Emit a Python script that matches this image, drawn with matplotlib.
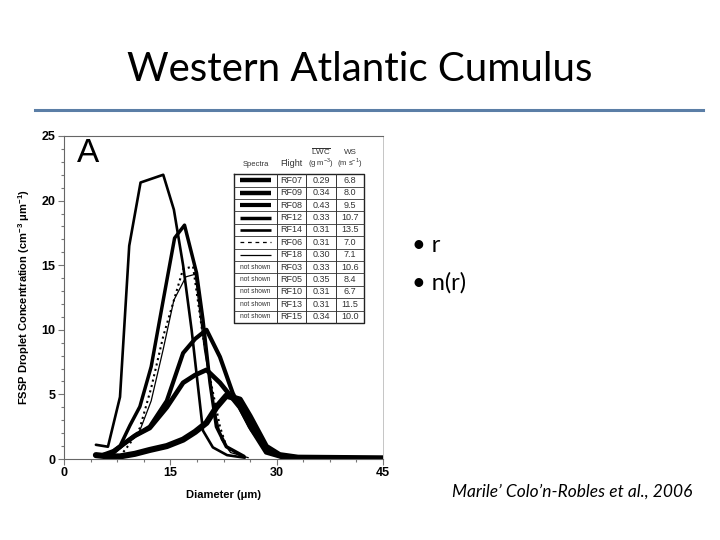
import matplotlib
matplotlib.use("Agg")
import matplotlib.pyplot as plt
from matplotlib.ticker import MultipleLocator

plt.rcParams["mathtext.fontset"] = "custom"
plt.rcParams["mathtext.rm"] = "Liberation Sans"
plt.rcParams["mathtext.bf"] = "Liberation Sans:bold"

# droplet spectra (diameter um, concentration cm-3 um-1)
rf07_x = [4.5, 6.2, 7.9, 10.0, 12.1, 14.5, 16.8, 18.5, 20.1, 21.5, 22.9, 24.8, 26.2, 28.5, 30.4, 33.0, 45.0]
rf07_y = [0.3, 0.2, 0.2, 0.4, 0.7, 1.0, 1.5, 2.1, 2.8, 4.0, 4.9, 4.6, 3.3, 0.95, 0.3, 0.1, 0.05]
rf09_x = [5.5, 7.0, 8.5, 10.0, 12.1, 14.5, 16.8, 18.5, 20.1, 22.0, 24.8, 26.5, 28.5, 31.0, 35.0, 45.0]
rf09_y = [0.3, 0.6, 1.2, 1.8, 2.4, 4.0, 5.9, 6.5, 6.9, 5.9, 4.0, 2.3, 0.8, 0.15, 0.05, 0.05]
rf08_x = [5.5, 7.0, 8.5, 10.0, 12.1, 14.5, 16.8, 18.5, 20.1, 22.0, 23.8, 26.2, 28.5, 31.0, 35.0, 45.0]
rf08_y = [0.3, 0.5, 1.2, 1.8, 2.5, 4.5, 8.2, 9.3, 10.0, 7.9, 5.1, 2.5, 0.5, 0.1, 0.05, 0.05]
rf12_x = [6.2, 7.9, 9.3, 10.7, 12.3, 14.0, 15.6, 17.0, 18.7, 19.6, 20.6, 21.5, 22.9, 25.4]
rf12_y = [0.3, 1.0, 2.6, 4.05, 7.15, 12.3, 17.1, 18.1, 14.4, 10.8, 5.9, 2.5, 0.95, 0.2]
rf14_x = [4.5, 6.2, 7.9, 9.2, 10.8, 14.0, 15.5, 16.8, 18.0, 19.6, 21.0, 23.0, 25.5]
rf14_y = [1.1, 0.95, 4.8, 16.5, 21.4, 22.0, 19.3, 15.0, 10.0, 2.2, 0.9, 0.3, 0.1]
rf06_x = [7.9, 9.3, 10.7, 12.3, 14.0, 16.8, 18.2, 19.6, 20.7, 22.0, 23.0, 25.0]
rf06_y = [0.2, 1.2, 2.4, 5.5, 9.5, 14.7, 14.9, 9.5, 6.0, 2.5, 0.8, 0.2]
rf18_x = [6.2, 7.9, 9.3, 10.7, 12.3, 14.0, 15.5, 17.2, 18.5, 19.8, 21.0, 22.2, 23.5, 26.0]
rf18_y = [0.2, 0.8, 1.5, 2.2, 4.5, 8.5, 12.3, 14.1, 14.3, 8.5, 4.5, 1.5, 0.5, 0.1]

# table next to the spectra
flights = ["RF07", "RF09", "RF08", "RF12", "RF14", "RF06", "RF18",
           "RF03", "RF05", "RF10", "RF13", "RF15"]
lwc = ["0.29", "0.34", "0.43", "0.33", "0.31", "0.31", "0.30",
       "0.33", "0.35", "0.31", "0.31", "0.34"]
ws = ["6.8", "8.0", "9.5", "10.7", "13.5", "7.0", "7.1",
      "10.6", "8.4", "6.7", "11.5", "10.0"]

spectra = [(rf07_x, rf07_y, 4.4, "-"), (rf09_x, rf09_y, 3.4, "-"),
           (rf08_x, rf08_y, 3.0, "-"), (rf12_x, rf12_y, 2.5, "-"),
           (rf14_x, rf14_y, 1.9, "-"), (rf06_x, rf06_y, 1.5, ":"),
           (rf18_x, rf18_y, 0.9, "-")]

fig = plt.figure(figsize=(7.2, 5.4), dpi=100)

# slide title and rule
fig.text(0.5, 0.872, "Western Atlantic Cumulus", ha="center", va="center",
         fontsize=29, family="Lato")
fig.add_artist(plt.Line2D([35 / 720, 703 / 720], [1 - 110 / 540] * 2,
                          color="#5b7ea6", lw=2.2))

ax = fig.add_axes([64 / 720, 1 - 459 / 540, 319 / 720, 323 / 540])
for xs, ys, lw, ls in spectra:
    ax.plot(xs, ys, color="black", lw=lw, ls=ls, solid_joinstyle="round",
            solid_capstyle="round")

ax.set_xlim(0, 45)
ax.set_ylim(0, 25)
ax.xaxis.set_major_locator(MultipleLocator(15))
ax.xaxis.set_minor_locator(MultipleLocator(3.75))
ax.yaxis.set_major_locator(MultipleLocator(5))
ax.yaxis.set_minor_locator(MultipleLocator(1))
ax.tick_params(which="both", direction="out", color="#777777", width=0.8)
ax.tick_params(which="major", length=4, labelsize=9, pad=2)
ax.tick_params(which="minor", length=2.5)
for lab in ax.get_xticklabels() + ax.get_yticklabels():
    lab.set_fontweight("bold")
    lab.set_family("Liberation Sans")
for side in ["left", "bottom", "top"]:
    ax.spines[side].set_color("#666666")
ax.spines["right"].set_color("#bbbbbb")
ax.spines["right"].set_linewidth(0.6)

ax.set_xlabel("Diameter (\u03bcm)", fontsize=8, fontweight="bold",
              family="Liberation Sans", labelpad=8)
ax.set_ylabel("FSSP Droplet Concentration (cm$^{\\mathbf{-3}}$ \u03bcm$^{\\mathbf{-1}}$)",
              fontsize=8, fontweight="bold", family="Liberation Sans", labelpad=7)
ax.text(0.04, 0.945, "A", transform=ax.transAxes, fontsize=24,
        family="Liberation Sans", va="center", ha="left")

# table in axes fraction
left, c1, c2, c3, right = 0.533, 0.668, 0.759, 0.853, 0.940
top, rh = 0.882, 0.0384
bottom = top - rh * len(flights)
tkw = dict(transform=ax.transAxes, family="Liberation Sans", color="#333333")
ax.plot([left, right, right, left, left], [top, top, bottom, bottom, top],
        transform=ax.transAxes, color="#222222", lw=1.0, clip_on=False)
for cx in [c1, c2, c3]:
    ax.plot([cx, cx], [top, bottom], transform=ax.transAxes, color="#333333",
            lw=0.7, clip_on=False)
for i in range(1, len(flights)):
    yy = top - i * rh
    ax.plot([left, right], [yy, yy], transform=ax.transAxes, color="#333333",
            lw=0.6, clip_on=False)

ax.text((left + c1) / 2, top + 0.03, "Spectra", ha="center", va="center", fontsize=5.5, **tkw)
ax.text((c1 + c2) / 2, top + 0.033, "Flight", ha="center", va="center", fontsize=6.5, **tkw)
ax.text((c2 + c3) / 2, top + 0.068, r"$\overline{\mathrm{LWC}}$", ha="center", va="center", fontsize=5.8, **tkw)
ax.text((c3 + right) / 2, top + 0.068, "WS", ha="center", va="center", fontsize=5.8, **tkw)
ax.text((c2 + c3) / 2, top + 0.033, r"(g m$^{-3}$)", ha="center", va="center", fontsize=5.5, **tkw)
ax.text((c3 + right) / 2, top + 0.033, r"(m s$^{-1}$)", ha="center", va="center", fontsize=5.5, **tkw)

for i, (fl, lw_v, ws_v) in enumerate(zip(flights, lwc, ws)):
    yc = top - (i + 0.5) * rh
    ax.text((c1 + c2) / 2, yc, fl, ha="center", va="center", fontsize=6.5, **tkw)
    ax.text((c2 + c3) / 2, yc, lw_v, ha="center", va="center", fontsize=6.5, **tkw)
    ax.text((c3 + right) / 2, yc, ws_v, ha="center", va="center", fontsize=6.5, **tkw)
    if i < len(spectra):
        _, _, lw, ls = spectra[i]
        ax.plot([left + 0.02, c1 - 0.02], [yc, yc], transform=ax.transAxes,
                color="black", lw=min(lw, 3.2) if ls == "-" else 0.9,
                ls="-" if ls == "-" else (0, (3, 3)), clip_on=False,
                solid_capstyle="butt")
    else:
        ax.text((left + c1) / 2, yc, "not shown", ha="center", va="center",
                fontsize=4.8, **tkw)

# bullets and citation
fig.text(412 / 720, 1 - 245 / 540, "\u2022 r", fontsize=17, family="Lato", va="center")
fig.text(412 / 720, 1 - 283 / 540, "\u2022 n(r)", fontsize=17, family="Lato", va="center")
fig.text(452 / 720, 1 - 492 / 540, "Marile\u2019 Colo\u2019n-Robles et al., 2006",
         fontsize=12.5, family="Lato", style="italic", va="center")

fig.savefig("out.png", dpi=100)
